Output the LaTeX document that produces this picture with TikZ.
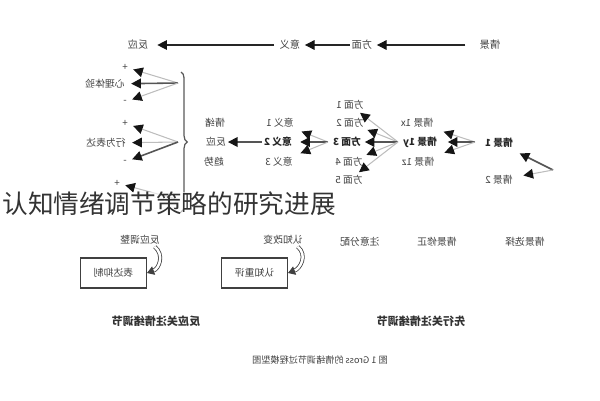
\documentclass[tikz,border=0pt]{standalone}
\usepackage{fontspec}
\usepackage{graphicx}
\setmainfont{Noto Sans CJK SC}
\usetikzlibrary{arrows.meta,decorations.pathreplacing}

\definecolor{ink}{HTML}{404040}
\definecolor{dk}{HTML}{555555}
\definecolor{lt}{HTML}{BDBDBD}
\definecolor{tip}{HTML}{151515}
\newcommand{\mir}[1]{\reflectbox{#1}}

\tikzset{
  lbl/.style={font=\fontsize{5.6}{6}\selectfont, text=ink, inner sep=1pt},
  boldlbl/.style={font=\fontsize{5.6}{6}\selectfont\bfseries, text=black!85},
  toplbl/.style={lbl, font=\fontsize{5.8}{6}\selectfont},
  caplbl/.style={lbl, font=\fontsize{6.3}{7}\selectfont\bfseries, text=black!80},
  tipd/.style={-{Triangle[length=5.5pt,width=5.5pt,color=tip]}},
  topline/.style={tipd, draw=black!85, line width=0.6pt},
  dkline/.style={tipd, draw=dk, line width=0.9pt},
  ltline/.style={tipd, draw=lt, line width=0.6pt},
  stratbox/.style={lbl, draw=ink, line width=0.6pt, minimum width=1.32cm, minimum height=0.6cm},
  turnarr/.style={draw=ink, line width=0.45pt, double=white, double distance=1.4pt,
    -{Triangle[length=4pt,width=5pt,color=ink]}},
  bracestyle/.style={draw=black!65, line width=0.7pt, decorate, decoration={brace, amplitude=3.5pt}}
}

\begin{document}
\begin{tikzpicture}[x=0.02cm, y=-0.02cm]
  \useasboundingbox (0,0) rectangle (600,400);

  % top chain
  \node[toplbl](Resp) at (138,45){\mir{反应}};
  \node[toplbl](Mean) at (290,45){\mir{意义}};
  \node[toplbl](Asp) at (362,45){\mir{方面}};
  \node[toplbl](Sit) at (490,45){\mir{情景}};

  \path
  (Sit) edge[topline, shorten <=7pt, shorten >=1.5pt] (Asp)
  (Asp) edge[topline, shorten >=1.5pt] (Mean)
  (Mean) edge[topline, shorten <=2pt, shorten >=4pt] (Resp);

  % response tendencies
  \node[lbl](Exp) at (105,84){\mir{心理体验}};
  \node[lbl](Pa) at (125,67){+};
  \node[lbl](Ma) at (125,102){-};
  \node[lbl](Beh) at (106,143){\mir{行为表达}};
  \node[lbl](Pb) at (125,123){+};
  \node[lbl](Mb) at (125,162){-};
  \node[lbl](Pc) at (117,183){+};
  \coordinate (Ca) at (178,83);
  \coordinate (Cb) at (178,142);
  \coordinate (Cc) at (180,200);

  \path
  (Ca) edge[ltline, shorten >=2pt] (Pa)
  (Ca) edge[dkline, shorten >=2.5pt] (Exp)
  (Ca) edge[ltline, shorten >=2pt] (Ma)
  (Cb) edge[ltline, shorten >=2pt] (Pb)
  (Cb) edge[ltline, shorten >=2.5pt] (Beh)
  (Cb) edge[dkline, shorten >=2pt] (Mb)
  (Cc) edge[ltline, shorten >=2pt] (Pc);

  \draw[bracestyle] (181,72) -- (181,212);

  \node[lbl](Emo) at (215,123){\mir{情绪}};
  \node[lbl](RespB) at (216,142){\mir{反应}};
  \node[lbl](Tend) at (214,162){\mir{趋势}};

  % meanings
  \node[lbl](Mn1) at (280,123){\mir{意义 1}};
  \node[lbl,boldlbl](Mn2) at (278,142){\mir{意义 2}};
  \node[lbl](Mn3) at (279,162){\mir{意义 3}};
  \coordinate (Cm) at (328,142);

  \path
  (Mn2) edge[dkline] (RespB)
  (Cm) edge[ltline, shorten >=3.5pt] (Mn1)
  (Cm) edge[dkline, shorten >=3.5pt] (Mn2)
  (Cm) edge[ltline, shorten >=3.5pt] (Mn3);

  % aspects
  \node[lbl](Asp1) at (350,105){\mir{方面 1}};
  \node[lbl](Asp2) at (350,123){\mir{方面 2}};
  \node[lbl,boldlbl](Asp3) at (347,142){\mir{方面 3}};
  \node[lbl](Asp4) at (349,162){\mir{方面 4}};
  \node[lbl](Asp5) at (349,180){\mir{方面 5}};
  \coordinate (Cf) at (398,142);

  \path
  (Cf) edge[ltline, shorten >=1pt] (Asp1)
  (Cf) edge[ltline, shorten >=1pt] (Asp2)
  (Cf) edge[dkline, shorten >=1pt] (Asp3)
  (Cf) edge[ltline, shorten >=1pt] (Asp4)
  (Cf) edge[ltline, shorten >=1pt] (Asp5);

  % situations
  \node[lbl](Sx) at (417,123){\mir{情景 1x}};
  \node[lbl,boldlbl](Sy) at (420,142){\mir{情景 1y}};
  \node[lbl](Sz) at (418,162){\mir{情景 1z}};
  \node[lbl,boldlbl](S1) at (499,143){\mir{情景 1}};
  \node[lbl](S2) at (499,180){\mir{情景 2}};
  \coordinate (Cs) at (475,142);
  \coordinate (Cv) at (553,170);

  \path
  (Cs) edge[ltline, shorten >=5pt] (Sx)
  (Cs) edge[dkline, shorten >=5pt] (Sy)
  (Cs) edge[ltline, shorten >=5pt] (Sz)
  (Cv) edge[dkline, shorten >=4.5pt] (S1)
  (Cv) edge[ltline, shorten >=5pt] (S2);

  % strategies
  \node[lbl](Adj) at (140,240){\mir{反应调整}};
  \node[stratbox](Sup) at (113.5,273){\mir{表达抑制}};
  \node[lbl](Chg) at (283,240){\mir{认知改变}};
  \node[stratbox](Rea) at (254.5,273){\mir{认知重评}};
  \node[lbl](Att) at (360,242){\mir{注意分配}};
  \node[lbl](Mod) at (437,242){\mir{情景修正}};
  \node[lbl](Sel) at (525,242){\mir{情景选择}};

  \draw[turnarr] ([xshift=-4pt]Adj.south east) to[out=-40,in=20,looseness=1.2] (Sup.east);
  \draw[turnarr] ([xshift=-4pt]Chg.south east) to[out=-40,in=20,looseness=1.2] (Rea.east);

  \node[caplbl](RF) at (156,321){\mir{反应关注情绪调节}};
  \node[caplbl](AF) at (421,321){\mir{先行关注情绪调节}};
  \node[lbl, font=\fontsize{5.2}{6}\selectfont](Fig) at (320,360){\mir{图 1 Gross 的情绪调节过程模型图}};

  % overlay title
  \node[anchor=west, font=\fontsize{14.6}{16}\selectfont, text=black!80, fill=white,
    fill opacity=0.6, text opacity=1, inner sep=0pt](Ttl) at (2,204){认知情绪调节策略的研究进展};
\end{tikzpicture}
\end{document}
